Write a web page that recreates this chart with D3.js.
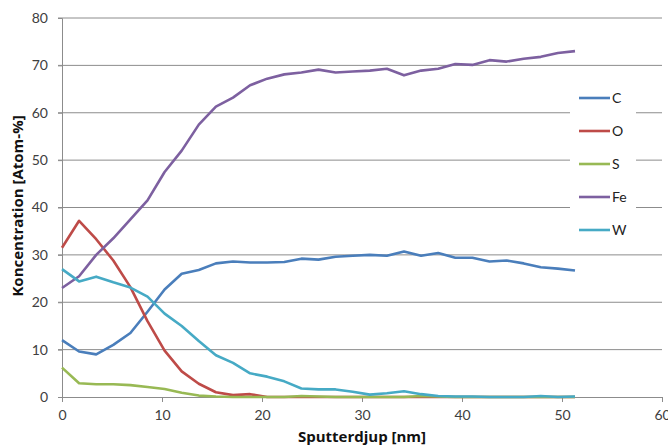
<!DOCTYPE html>
<html>
<head>
<meta charset="utf-8">
<script src="https://cdn.jsdelivr.net/npm/d3@7"></script>
<style>
  body { margin: 0; background: #fff; }
  svg { font-family: Lato, "Open Sans", sans-serif; }
</style>
</head>
<body>
<div id="chart"></div>
<script>
// depth points in nm
var depth = [0, 1.71, 3.42, 5.13, 6.84, 8.55, 10.26, 11.97, 13.68, 15.39, 17.1,
  18.81, 20.52, 22.23, 23.94, 25.65, 27.36, 29.07, 30.78, 32.49, 34.2,
  35.91, 37.62, 39.33, 41.04, 42.75, 44.46, 46.17, 47.88, 49.59, 51.3];

var C  = [12, 9.6, 9, 11, 13.5, 18, 22.7, 26, 26.8, 28.2, 28.6, 28.4, 28.4, 28.5, 29.2, 29,
  29.6, 29.8, 30, 29.8, 30.7, 29.8, 30.4, 29.4, 29.4, 28.6, 28.8, 28.2, 27.4, 27.1, 26.7];
var O  = [31.5, 37.2, 33.3, 28.8, 23.2, 16, 9.8, 5.4, 2.8, 1, 0.4, 0.6, 0, 0, 0, 0,
  0, 0, 0, 0, 0, 0, 0, 0, 0, 0, 0, 0, 0, 0, 0];
var S  = [6.2, 2.9, 2.7, 2.7, 2.5, 2.1, 1.7, 0.9, 0.3, 0.1, 0, 0, 0, 0, 0.2, 0.1,
  0, 0, 0, 0, 0, 0.2, 0.1, 0, 0, 0, 0, 0, 0, 0, 0];
var Fe = [23, 25.5, 30, 33.5, 37.5, 41.5, 47.5, 52, 57.5, 61.3, 63.2, 65.8, 67.2, 68.1, 68.5, 69.1,
  68.5, 68.7, 68.9, 69.3, 67.9, 68.9, 69.3, 70.3, 70.1, 71.1, 70.8, 71.4, 71.8, 72.6, 73];
var W  = [27, 24.4, 25.4, 24.2, 23.1, 21.2, 17.6, 15, 11.8, 8.8, 7.2, 5, 4.3, 3.3, 1.8, 1.6,
  1.6, 1.1, 0.5, 0.8, 1.2, 0.6, 0.2, 0.1, 0.1, 0, 0, 0, 0.2, 0, 0.1];

var seriesNames = ["C", "O", "S", "Fe", "W"];
var seriesColors = ["#4a7ebb", "#be4b48", "#98b954", "#7d60a0", "#46aac5"];
var xTicks = [0, 10, 20, 30, 40, 50, 60];
var yTicks = [0, 10, 20, 30, 40, 50, 60, 70, 80];

var width = 668, height = 447;
var margin = {top: 18, right: 6, bottom: 50, left: 62};

var svg = d3.select("#chart").append("svg")
    .attr("width", width)
    .attr("height", height);

var x = d3.scaleLinear().domain([0, 60]).range([margin.left, width - margin.right]);
var y = d3.scaleLinear().domain([0, 80]).range([height - margin.bottom, margin.top]);

// gridlines
svg.append("g")
    .selectAll("line")
    .data(yTicks.filter(function(d) { return d > 0; }))
    .enter().append("line")
    .attr("x1", x(0) - 4)
    .attr("x2", x(60))
    .attr("y1", function(d) { return y(d); })
    .attr("y2", function(d) { return y(d); })
    .style("stroke", "#8c8c8c")
    .style("stroke-width", 1);

// y axis
var yAxis = svg.append("g")
    .attr("transform", "translate(" + x(0) + ",0)")
    .call(d3.axisLeft(y).tickValues(yTicks).tickSize(4).tickPadding(10));
yAxis.select(".domain").style("stroke", "#8c8c8c");
yAxis.selectAll(".tick line").style("stroke", "#8c8c8c");
yAxis.selectAll("text")
    .style("font-size", "14px")
    .style("fill", "#404040")
    .style("font-family", "Lato, sans-serif");

// x axis
var xAxis = svg.append("g")
    .attr("transform", "translate(0," + y(0) + ")")
    .call(d3.axisBottom(x).tickValues(xTicks).tickSize(5).tickPadding(8));
xAxis.select(".domain").style("stroke", "#8c8c8c");
xAxis.selectAll(".tick line").style("stroke", "#8c8c8c");
xAxis.selectAll("text")
    .style("font-size", "14px")
    .style("fill", "#404040")
    .style("font-family", "Lato, sans-serif");

// lines
var allSeries = [C, O, S, Fe, W];
var line = d3.line()
    .x(function(d, i) { return x(depth[i]); })
    .y(function(d) { return y(d); });

svg.append("g")
    .selectAll("path")
    .data(allSeries)
    .enter().append("path")
    .attr("d", line)
    .style("fill", "none")
    .style("stroke", function(d, i) { return seriesColors[i]; })
    .style("stroke-width", 2.6)
    .style("stroke-linejoin", "round");

// axis titles
svg.append("text")
    .attr("x", 362)
    .attr("y", 442)
    .attr("text-anchor", "middle")
    .style("font-size", "15px")
    .style("font-weight", "bold")
    .style("font-family", "'Open Sans', sans-serif")
    .style("fill", "#111")
    .text("Sputterdjup [nm]");

svg.append("text")
    .attr("transform", "translate(23,206) rotate(-90)")
    .attr("text-anchor", "middle")
    .style("font-size", "15px")
    .style("font-weight", "bold")
    .style("font-family", "'Open Sans', sans-serif")
    .style("fill", "#111")
    .text("Koncentration [Atom-%]");

// legend
var legend = svg.append("g");
legend.append("rect")
    .attr("x", 570)
    .attr("y", 82)
    .attr("width", 66)
    .attr("height", 164)
    .style("fill", "#fff");

var item = legend.selectAll("g.item")
    .data(seriesNames)
    .enter().append("g")
    .attr("class", "item")
    .attr("transform", function(d, i) { return "translate(579," + (98 + i * 33) + ")"; });

item.append("line")
    .attr("x1", 0)
    .attr("x2", 31)
    .style("stroke", function(d, i) { return seriesColors[i]; })
    .style("stroke-width", 2.6);

item.append("text")
    .attr("x", 33)
    .attr("dy", "0.36em")
    .style("font-size", "14px")
    .style("fill", "#222")
    .text(function(d) { return d; });
</script>
</body>
</html>
